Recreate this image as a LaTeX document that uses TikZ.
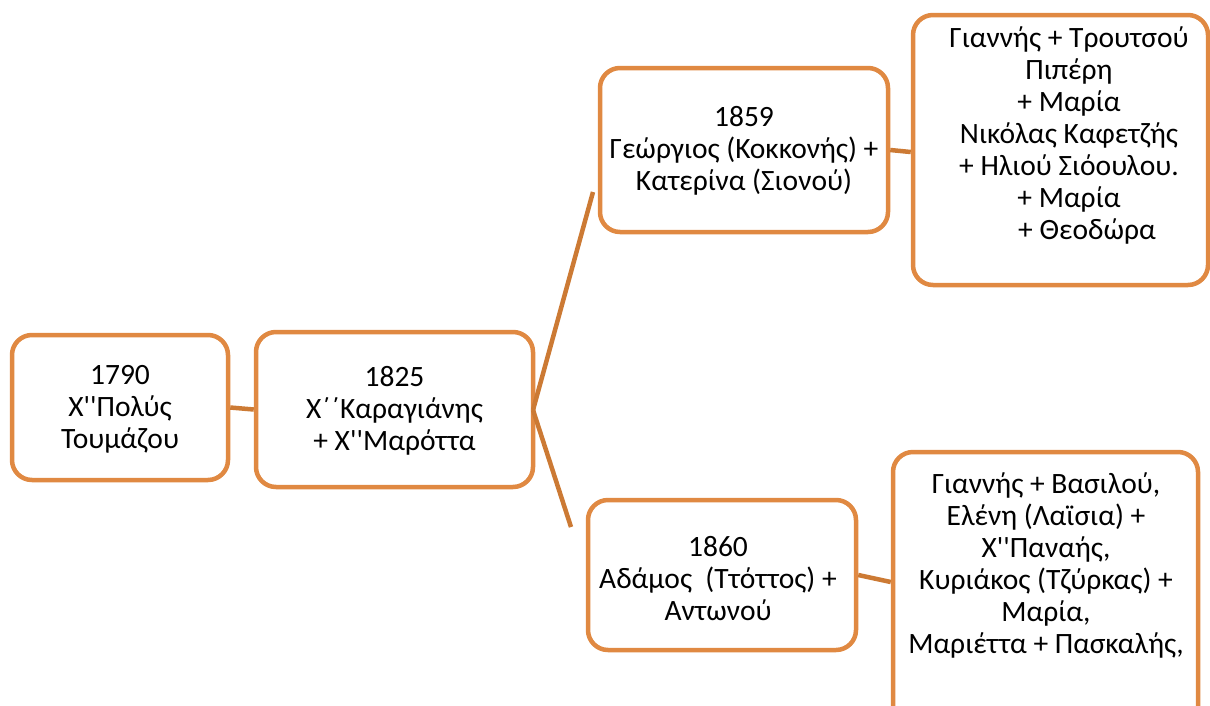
\documentclass[tikz,border=0pt]{standalone}
\usepackage{fontspec}
\setmainfont{Carlito}[Ligatures=TeXOff]
\definecolor{boxc}{RGB}{224,137,66}
\definecolor{linec}{RGB}{204,122,52}
\begin{document}
\begin{tikzpicture}[x=1pt,y=-1pt,
  box/.style={draw=boxc, line width=4.5pt, rounded corners=20pt, fill=white, inner sep=0pt},
  txt/.style={font=\fontsize{29.5}{32}\selectfont, align=center, inner sep=0pt},
  conn/.style={draw=linec, line width=4.5pt}]
\clip (0,0) rectangle (1210,705);
\fill[white] (0,0) rectangle (1210,705);
% boxes
\node[box, minimum width=216pt, minimum height=145pt] (a) at (120,407.5) {};
\node[box, minimum width=277pt, minimum height=155pt] (b) at (394.5,409.5) {};
\node[box, minimum width=288pt, minimum height=164pt] (c) at (744,150) {};
\node[box, minimum width=295pt, minimum height=270pt] (d) at (1060.5,150) {};
\node[box, minimum width=268pt, minimum height=150pt] (e) at (722,575) {};
\node[box, minimum width=305pt, minimum height=290pt] (f) at (1045.5,597) {};
% texts
\node[txt] (ta) at (120,409) {1790\\Χ''Πολύς\\Τουμάζου};
\node[txt] (tb) at (394.5,411) {1825\\Χ΄΄Καραγιάνης\\+ Χ''Μαρόττα};
\node[txt] (tc) at (744,151) {1859\\Γεώργιος (Κοκκονής) +\\Κατερίνα (Σιονού)};
\node[txt] (td) at (1069,135.5) {Γιαννής + Τρουτσού\\Πιπέρη\\+ Μαρία\\Νικόλας Καφετζής\\+ Ηλιού Σιόουλου.\\+ Μαρία\\\hspace*{36pt}+ Θεοδώρα};
\node[txt] (te) at (718,579) {1860\\Αδάμος\ \ (Ττόττος) +\\Αντωνού};
\node[txt] (tf) at (1046,565) {Γιαννής + Βασιλού,\\Ελένη (Λαϊσια) +\\Χ''Παναής,\\Κυριάκος (Τζύρκας) +\\Μαρία,\\Μαριέττα + Πασκαλής,};
% connectors
\coordinate (cu) at (593,192);
\coordinate (cl) at (571,527);
\coordinate (bj) at (533,410);
\draw[conn] (a.east) -- (b.west);
\draw[conn] (bj) -- (cu);
\draw[conn] (bj) -- (cl);
\draw[conn] (c.east) -- (d.west |- 0,152);
\draw[conn] (e.east) -- (f.west |- 0,582);
\end{tikzpicture}
\end{document}
